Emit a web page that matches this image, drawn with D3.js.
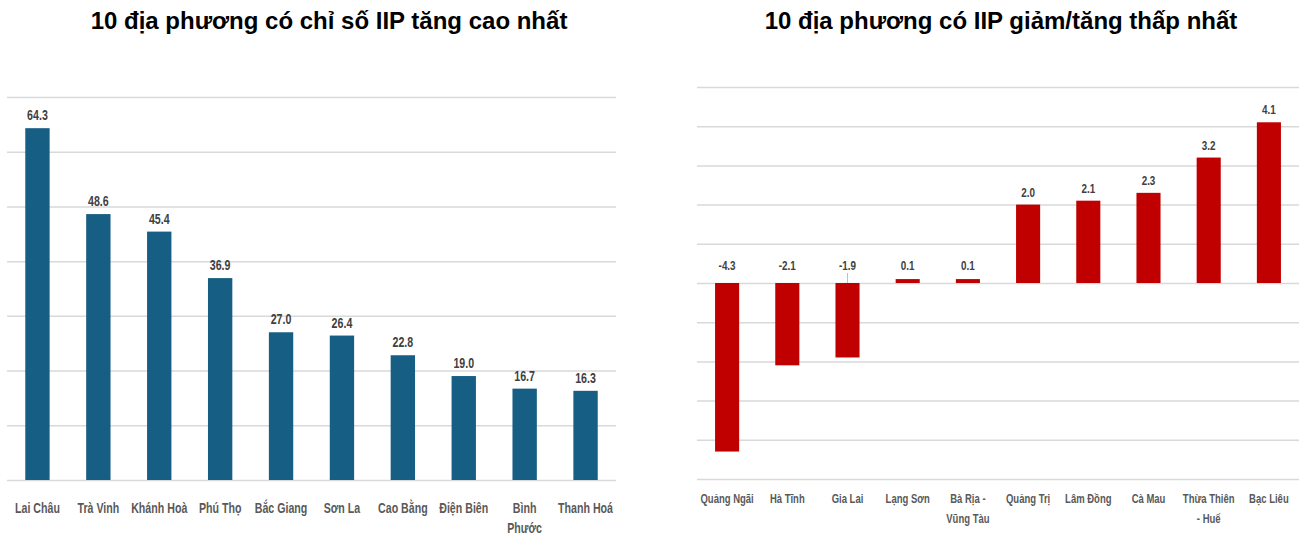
<!DOCTYPE html>
<html>
  <head>
    <meta charset="utf-8" />
    <script src="https://d3js.org/d3.v7.min.js"></script>
    <style>
      body, html { margin: 0; padding: 0; background: #fff; overflow: hidden; }
      .title { font-family: "Liberation Sans", Arial, sans-serif; font-weight: bold; fill: #000; }
      .cond { font-family: "Liberation Sans", Arial, sans-serif; }
    </style>
    <title>IIP</title>
  </head>
  <body>
    <svg id="chart" width="1306" height="539"></svg>
    <script>
      // left chart: highest IIP growth
      var topNames = ["Lai Châu", "Trà Vinh", "Khánh Hoà", "Phú Thọ", "Bắc Giang", "Sơn La", "Cao Bằng", "Điện Biên", "Bình\nPhước", "Thanh Hoá"];
      var topValues = [64.3, 48.6, 45.4, 36.9, 27.0, 26.4, 22.8, 19.0, 16.7, 16.3];
      var topTicks = [0, 10, 20, 30, 40, 50, 60, 70];

      // right chart: lowest IIP
      var lowNames = ["Quảng Ngãi", "Hà Tĩnh", "Gia Lai", "Lạng Sơn", "Bà Rịa -\nVũng Tàu", "Quảng Trị", "Lâm Đồng", "Cà Mau", "Thừa Thiên\n- Huế", "Bạc Liêu"];
      var lowValues = [-4.3, -2.1, -1.9, 0.1, 0.1, 2.0, 2.1, 2.3, 3.2, 4.1];
      var lowTicks = [-5, -4, -3, -2, -1, 0, 1, 2, 3, 4, 5];

      var svg = d3.select("#chart");
      var squeeze = 0.76; // no condensed font installed, so squash text horizontally

      function drawChart(opt) {
        var g = svg.append("g");

        var x = d3.scaleBand()
          .domain(opt.names)
          .range([opt.left, opt.right])
          .paddingInner(0.6)
          .paddingOuter(0.3);

        var y = d3.scaleLinear()
          .domain([opt.ticks[0], opt.ticks[opt.ticks.length - 1]])
          .range([opt.bottom, opt.top]);

        var mid = function (d) { return x(d.name) + x.bandwidth() / 2; };

        // gridlines
        var grid = g.append("g")
          .attr("transform", "translate(" + opt.left + ",0)")
          .call(d3.axisLeft(y).tickValues(opt.ticks).tickSize(-(opt.right - opt.left)).tickFormat(""));
        grid.select(".domain").remove();
        grid.selectAll("line").style("stroke", "#d9d9d9").style("stroke-width", "1.5px");

        var data = opt.names.map(function (n, i) { return { name: n, value: opt.values[i] }; });

        g.selectAll("rect.bar")
          .data(data)
          .enter()
          .append("rect")
          .attr("class", "bar")
          .attr("x", function (d) { return x(d.name); })
          .attr("width", x.bandwidth())
          .attr("y", function (d) { return y(Math.max(0, d.value)); })
          .attr("height", function (d) { return Math.abs(y(d.value) - y(0)); })
          .style("fill", opt.color);

        // value labels (small and negative ones sit just above the zero line)
        g.selectAll("text.val")
          .data(data)
          .enter()
          .append("text")
          .attr("class", "val cond")
          .attr("transform", function (d) {
            var ty = d.value < 0.5 ? y(0) - 13 : y(d.value) - 8;
            return "translate(" + mid(d) + "," + ty + ") scale(" + squeeze + ",1)";
          })
          .attr("text-anchor", "middle")
          .style("font-size", opt.valSize + "px")
          .style("font-weight", "bold")
          .style("fill", "#404040")
          .text(function (d) { return d.value.toFixed(1); });

        // category labels
        var cats = g.selectAll("text.cat")
          .data(data)
          .enter()
          .append("text")
          .attr("class", "cat cond")
          .attr("transform", function (d) {
            return "translate(" + mid(d) + "," + (opt.bottom + opt.labelGap) + ") scale(" + squeeze + ",1)";
          })
          .attr("text-anchor", "middle")
          .style("font-size", opt.catSize + "px")
          .style("font-weight", "bold")
          .style("fill", "#595959");
        cats.each(function (d) {
          var t = d3.select(this);
          d.name.split("\n").forEach(function (l, i) {
            t.append("tspan")
              .attr("x", 0)
              .attr("dy", i === 0 ? 0 : opt.lineH)
              .text(l);
          });
        });

        svg.append("text")
          .attr("class", "title")
          .attr("x", opt.titleX)
          .attr("y", 29)
          .attr("text-anchor", "middle")
          .style("font-size", "24px")
          .text(opt.title);

        return { x: x, y: y, g: g };
      }

      drawChart({
        names: topNames, values: topValues, ticks: topTicks,
        left: 7, right: 616, top: 97, bottom: 480,
        color: "#165e83", valSize: 14, catSize: 14, labelGap: 33, lineH: 20,
        title: "10 địa phương có chỉ số IIP tăng cao nhất", titleX: 329
      });

      var low = drawChart({
        names: lowNames, values: lowValues, ticks: lowTicks,
        left: 697, right: 1299, top: 87, bottom: 479,
        color: "#c00000", valSize: 13, catSize: 12.5, labelGap: 24, lineH: 20,
        title: "10 địa phương có IIP giảm/tăng thấp nhất", titleX: 1001
      });

      // leader line for Gia Lai label
      low.g.append("line")
        .attr("x1", low.x("Gia Lai") + low.x.bandwidth() / 2)
        .attr("x2", low.x("Gia Lai") + low.x.bandwidth() / 2)
        .attr("y1", low.y(0))
        .attr("y2", low.y(0) - 10)
        .style("stroke", "#bfbfbf")
        .style("stroke-width", "1px");
    </script>
  </body>
</html>
